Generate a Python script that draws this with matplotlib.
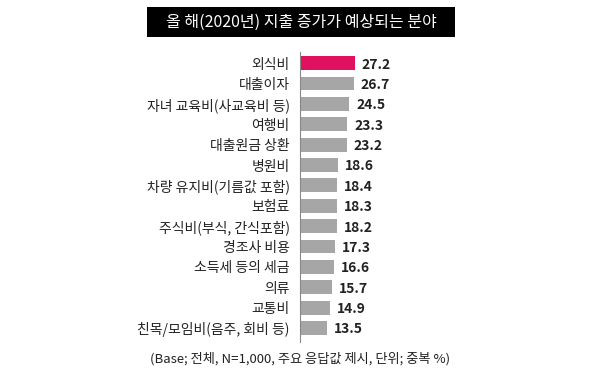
import matplotlib
matplotlib.use("Agg")
import matplotlib.pyplot as plt
from matplotlib.patches import Rectangle

plt.rcParams['font.family'] = ['Noto Sans CJK KR', 'DejaVu Sans']

title = "올 해(2020년) 지출 증가가 예상되는 분야"
footnote = "(Base; 전체, N=1,000, 주요 응답값 제시, 단위; 중복 %)"
categories = ["외식비", "대출이자", "자녀 교육비(사교육비 등)", "여행비", "대출원금 상환",
              "병원비", "차량 유지비(기름값 포함)", "보험료", "주식비(부식, 간식포함)",
              "경조사 비용", "소득세 등의 세금", "의류", "교통비", "친목/모임비(음주, 회비 등)"]
values = [27.2, 26.7, 24.5, 23.3, 23.2, 18.6, 18.4, 18.3, 18.2, 17.3, 16.6, 15.7, 14.9, 13.5]

highlight = "#E0115F"
gray = "#A6A6A6"
colors = [highlight] + [gray] * (len(values) - 1)

fig = plt.figure(figsize=(6, 3.78), dpi=100)
ax = fig.add_axes([0.5, 0.095, 0.3367, 0.767])

ypos = list(range(len(categories)))
bars = ax.barh(ypos, values, height=0.68, color=colors)
ax.set_xlim(0, 100)
ax.set_ylim(13.69, -0.54)
ax.set_yticks(ypos)
ax.set_yticklabels(categories, fontsize=10, color="#222222")
ax.tick_params(axis='y', length=0, pad=7.5)
ax.set_xticks([])
for s in ["top", "right", "bottom"]:
    ax.spines[s].set_visible(False)
ax.spines["left"].set_color("#888888")
ax.spines["left"].set_linewidth(0.8)

for y, v in zip(ypos, values):
    ax.annotate(f"{v:.1f}", xy=(v, y), xytext=(5, -1), textcoords="offset points",
                ha="left", va="center", fontsize=10, fontweight="bold", color="#222222")

fig.patches.append(Rectangle((0.245, 0.902), 0.513, 0.079, transform=fig.transFigure,
                             facecolor="black", edgecolor="none"))
fig.text(0.502, 0.941, title, ha="center", va="center", color="white", fontsize=11.5)
fig.text(0.5, 0.052, footnote, ha="center", va="center", color="#222222", fontsize=9.5)

fig.savefig("out.png", dpi=100)
